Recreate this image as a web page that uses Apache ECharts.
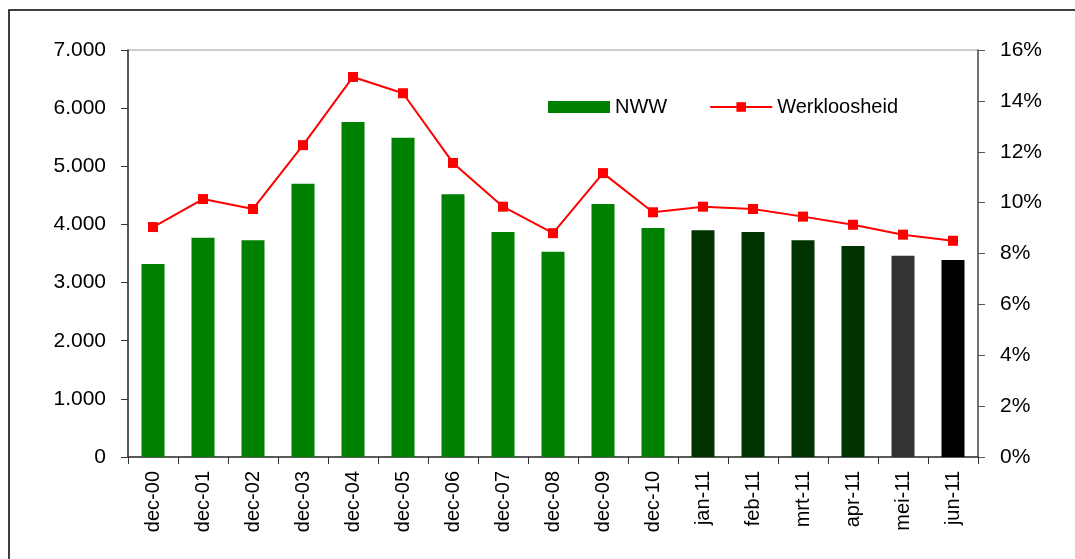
<!DOCTYPE html>
<html>
<head>
<meta charset="utf-8">
<script src="https://cdn.jsdelivr.net/npm/echarts@6/dist/echarts.min.js"></script>
<style>html,body{margin:0;padding:0;background:#fff;}#c{width:1075px;height:559px;}</style>
</head>
<body>
<div id="c"></div>
<script>
var categories = ['dec-00','dec-01','dec-02','dec-03','dec-04','dec-05','dec-06','dec-07','dec-08','dec-09','dec-10','jan-11','feb-11','mrt-11','apr-11','mei-11','jun-11'];
var nww = [3320, 3770, 3730, 4700, 5760, 5490, 4520, 3870, 3530, 4350, 3940, 3900, 3870, 3730, 3630, 3460, 3390];
var werkloosheid = [9.04, 10.14, 9.75, 12.26, 14.94, 14.30, 11.56, 9.84, 8.80, 11.16, 9.62, 9.84, 9.75, 9.45, 9.13, 8.74, 8.50];
var barColors = ['#008000','#008000','#008000','#008000','#008000','#008000','#008000','#008000','#008000','#008000','#008000','#003300','#003300','#003300','#003300','#333333','#000000'];
var leftTicks = [0, 1000, 2000, 3000, 4000, 5000, 6000, 7000];
var rightTicks = [0, 2, 4, 6, 8, 10, 12, 14, 16];

var font = 'Liberation Sans, Arial, sans-serif';
var chart = echarts.init(document.getElementById('c'), null, {renderer: 'canvas'});
chart.setOption({
  animation: false,
  backgroundColor: '#fff',
  grid: {left: 128, right: 97, top: 50, bottom: 102, show: true, borderColor: '#999', borderWidth: 1},
  legend: {
    left: 543, top: 92, itemGap: 42, itemWidth: 62, itemHeight: 12,
    textStyle: {fontFamily: font, fontSize: 20, color: '#000', padding: [0, 0, 0, 0]},
    data: [
      {name: 'NWW', icon: 'rect', itemStyle: {color: '#008000'}},
      {name: 'Werkloosheid'}
    ]
  },
  xAxis: {
    type: 'category', data: categories, boundaryGap: true,
    axisLine: {lineStyle: {color: '#333', width: 1.5}},
    axisTick: {show: true, alignWithLabel: false, length: 7, lineStyle: {color: '#333'}},
    axisLabel: {rotate: 90, fontFamily: font, fontSize: 20, color: '#000', margin: 14, interval: 0}
  },
  yAxis: [
    {
      type: 'value', min: leftTicks[0], max: leftTicks[leftTicks.length - 1], interval: 1000,
      axisLine: {show: true, lineStyle: {color: '#333', width: 1.5}},
      axisTick: {show: true, length: 7, lineStyle: {color: '#333'}},
      splitLine: {show: false},
      axisLabel: {fontFamily: font, fontSize: 21, color: '#000', margin: 22,
        formatter: function (v) { return v === 0 ? '0' : (v / 1000).toFixed(3); }}
    },
    {
      type: 'value', min: rightTicks[0], max: rightTicks[rightTicks.length - 1], interval: 2, position: 'right',
      axisLine: {show: true, lineStyle: {color: '#555', width: 1.5}},
      axisTick: {show: true, length: 7, lineStyle: {color: '#555'}},
      splitLine: {show: false},
      axisLabel: {fontFamily: font, fontSize: 21, color: '#000', margin: 22, formatter: '{value}%'}
    }
  ],
  series: [
    {
      name: 'NWW', type: 'bar', yAxisIndex: 0, barWidth: 23,
      data: nww.map(function (v, i) { return {value: v, itemStyle: {color: barColors[i]}}; }),
      itemStyle: {color: '#008000'}
    },
    {
      name: 'Werkloosheid', type: 'line', yAxisIndex: 1, data: werkloosheid,
      symbol: 'rect', symbolSize: 10,
      lineStyle: {color: '#ff0000', width: 2},
      itemStyle: {color: '#ff0000'}
    }
  ],
  graphic: [
    {type: 'polyline', shape: {points: [[9, 559], [9, 10], [1075, 10]]}, style: {stroke: '#000', lineWidth: 1.5, fill: null}, silent: true}
  ]
});
</script>
</body>
</html>
